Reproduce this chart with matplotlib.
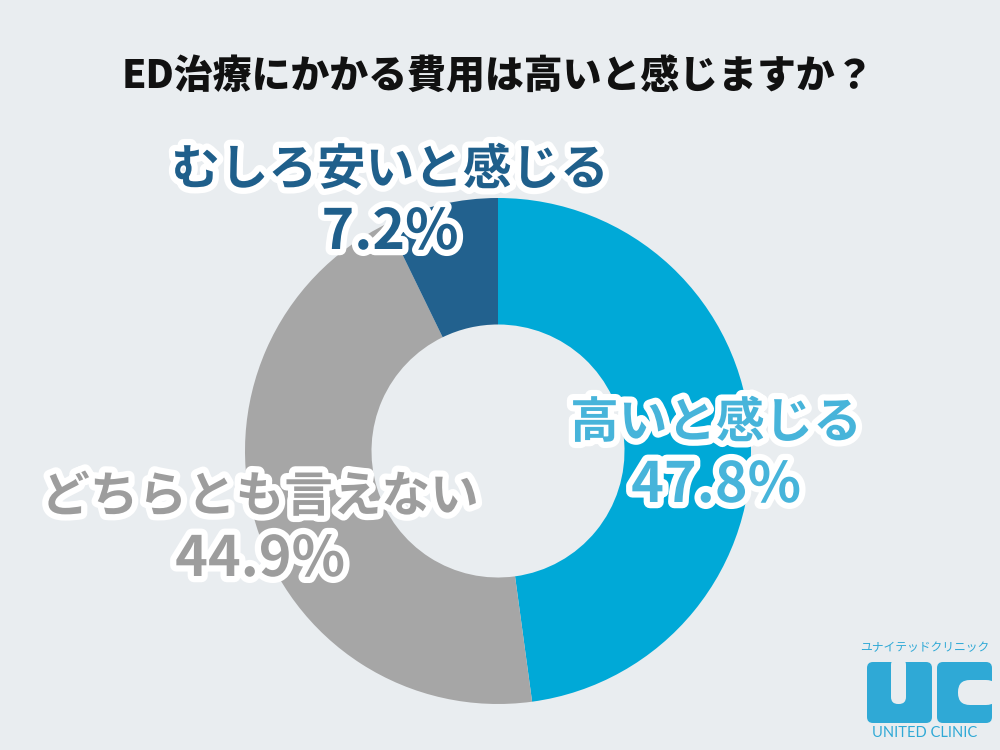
import matplotlib
matplotlib.use("Agg")
import matplotlib.pyplot as plt
import matplotlib.patheffects as pe
from matplotlib.patches import FancyBboxPatch

plt.rcParams["font.family"] = ["Noto Sans CJK JP", "DejaVu Sans"]

# data (clockwise from 12 o'clock)
labels = ["高いと感じる", "どちらとも言えない", "むしろ安いと感じる"]
values = [47.8, 44.9, 7.2]
colors = ["#00a9d7", "#a6a6a6", "#22618e"]
text_colors = ["#47b4da", "#9d9d9d", "#1f5f8b"]
title = "ED治療にかかる費用は高いと感じますか？"

BG = "#e9edf0"
W, H = 1000, 750

fig = plt.figure(figsize=(10, 7.5), dpi=100, facecolor=BG)
ax = fig.add_axes([0, 0, 1, 1])
ax.set_facecolor(BG)

cx, cy, r = 498, H - 451, 253
ax.pie(values, colors=colors, startangle=90, counterclock=False,
       radius=r, center=(cx, cy),
       wedgeprops=dict(width=r * 0.5, linewidth=0))

ax.set_xlim(0, W)
ax.set_ylim(0, H)
ax.set_aspect("equal")
ax.axis("off")

ax.text(498, H - 77, title, ha="center", va="center", fontsize=28,
        fontweight="heavy", color="#111111")

# label positions (pixel coords from the top)
label_pos = [(716, 423), (260, 497), (390, 170)]
stroke = [pe.withStroke(linewidth=9, foreground="white")]
for lab, val, tc, (x, y) in zip(labels, values, text_colors, label_pos):
    ax.text(x, H - y, lab, ha="center", va="center", fontsize=35,
            fontweight="bold", color=tc, path_effects=stroke)
    ax.text(x, H - y - 63, f"{val}%", ha="center", va="center", fontsize=40,
            fontweight="bold", color=tc, path_effects=stroke)

# logo
logo = "#2fa9d6"
ax.text(925, H - 648, "ユナイテッドクリニック", ha="center", va="center",
        fontsize=8.5, color=logo)
# U
ax.add_patch(FancyBboxPatch((867, H - 723), 65, 61, boxstyle="round,pad=0,rounding_size=6",
                            fc=logo, ec="none"))
ax.add_patch(FancyBboxPatch((891, H - 704), 15, 46, boxstyle="round,pad=0,rounding_size=7",
                            fc=BG, ec="none"))
# C
ax.add_patch(FancyBboxPatch((937, H - 723), 55, 61, boxstyle="round,pad=0,rounding_size=6",
                            fc=logo, ec="none"))
ax.add_patch(FancyBboxPatch((958, H - 705), 40, 25, boxstyle="round,pad=0,rounding_size=12",
                            fc=BG, ec="none"))
ax.text(925, H - 733, "UNITED CLINIC", ha="center", va="center",
        fontsize=10.5, color=logo, family=["Lato", "DejaVu Sans"])

fig.savefig("out.png", dpi=100, facecolor=BG)
